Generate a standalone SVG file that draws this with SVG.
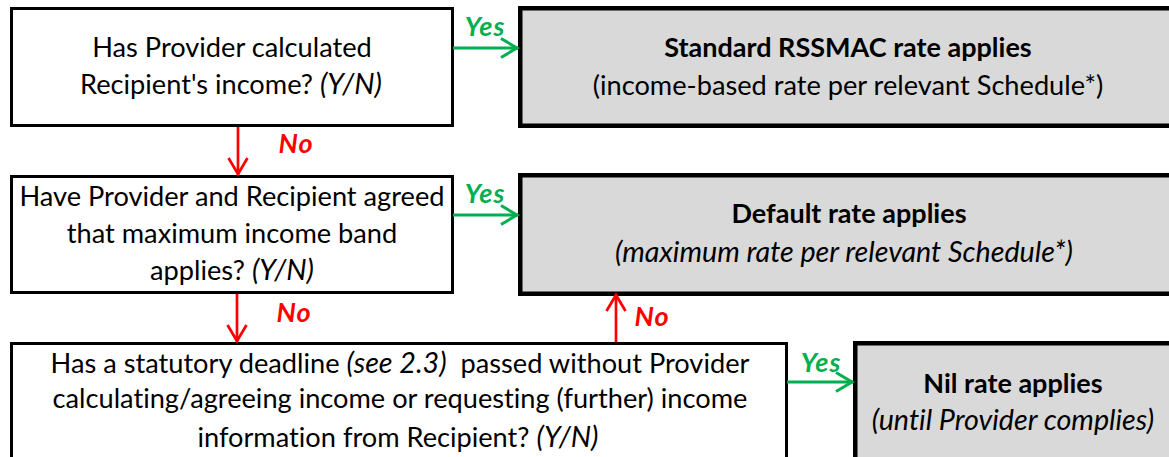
<svg xmlns="http://www.w3.org/2000/svg" width="1169" height="457" viewBox="0 0 1169 457">
<style>
text{font-family:Lato,"Liberation Sans",sans-serif;fill:#000;font-variant-ligatures:none;}
.t{font-size:27.2px;text-anchor:middle;}
.b{font-weight:bold;font-size:27px;}
.i{font-style:italic;font-size:28.7px;}
.q{fill:#fff;stroke:#000;stroke-width:3;}
.r{fill:#d9d9d9;stroke:#000;stroke-width:4.5;}
.lab{font-size:27px;font-weight:bold;font-style:italic;text-anchor:middle;letter-spacing:1px;}
.yes{fill:#00b050;}
.no{fill:#ff0000;}
.cy{stroke:#00b050;stroke-width:3;fill:none;}
.cn{stroke:#ff0000;stroke-width:2.7;fill:none;}
</style>
<defs>
<marker id="ag" viewBox="-22 -12 24 24" refX="0" refY="0" markerWidth="24" markerHeight="24" markerUnits="userSpaceOnUse" orient="auto"><path d="M-17,-9.5 L-1,0 L-17,9.5" fill="none" stroke="#00b050" stroke-width="3"/></marker>
<marker id="ar" viewBox="-22 -12 24 24" refX="0" refY="0" markerWidth="24" markerHeight="24" markerUnits="userSpaceOnUse" orient="auto"><path d="M-17,-9.5 L-1,0 L-17,9.5" fill="none" stroke="#ff0000" stroke-width="2.7"/></marker>
</defs>
<rect width="1169" height="457" fill="#fff"/>
<g id="q1">
<rect class="q" x="11.5" y="8.5" width="441" height="117"/>
<text class="t" x="232" y="57">Has Provider calculated</text>
<text class="t" x="231" y="94">Recipient's income? <tspan class="i">(Y/N)</tspan></text>
</g>
<g id="r1">
<rect class="r" x="520.25" y="8.25" width="700" height="117.5"/>
<text class="t b" x="848" y="57">Standard RSSMAC rate applies</text>
<text class="t" x="848" y="95">(income-based rate per relevant Schedule*)</text>
</g>
<g id="q2">
<rect class="q" x="11.5" y="176.5" width="441" height="116"/>
<text class="t" x="232" y="206">Have Provider and Recipient agreed</text>
<text class="t" x="232" y="243">that maximum income band</text>
<text class="t" x="232" y="280">applies? <tspan class="i">(Y/N)</tspan></text>
</g>
<g id="r2">
<rect class="r" x="520.25" y="175.25" width="700" height="118.5"/>
<text class="t b" x="849" y="223">Default rate applies</text>
<text class="t i" x="844" y="262">(maximum rate per relevant Schedule*)</text>
</g>
<g id="q3">
<rect class="q" x="11.5" y="343.5" width="775" height="130"/>
<text class="t" x="400" y="373" xml:space="preserve">Has a statutory deadline <tspan class="i">(see 2.3)</tspan>  passed without Provider</text>
<text class="t" x="400" y="408">calculating/agreeing income or requesting (further) income</text>
<text class="t" x="398" y="447">information from Recipient? <tspan class="i">(Y/N)</tspan></text>
</g>
<g id="r3">
<rect class="r" x="855.25" y="343.25" width="400" height="200"/>
<text class="t b" x="1013" y="393">Nil rate applies</text>
<text class="t i" x="1013" y="430">(until Provider complies)</text>
</g>
<g id="connectors">
<line class="cy" x1="453" y1="48" x2="518" y2="48" marker-end="url(#ag)"/>
<line class="cy" x1="453" y1="215" x2="518" y2="215" marker-end="url(#ag)"/>
<line class="cy" x1="787" y1="382" x2="853" y2="382" marker-end="url(#ag)"/>
<line class="cn" x1="238" y1="127" x2="238" y2="175" marker-end="url(#ar)"/>
<line class="cn" x1="237" y1="294" x2="237" y2="342" marker-end="url(#ar)"/>
<line class="cn" x1="616" y1="342" x2="616" y2="294" marker-end="url(#ar)"/>
<text class="lab yes" x="485" y="36">Yes</text>
<text class="lab yes" x="485" y="203">Yes</text>
<text class="lab yes" x="821" y="372">Yes</text>
<text class="lab no" x="296" y="153">No</text>
<text class="lab no" x="294" y="322">No</text>
<text class="lab no" x="652" y="326">No</text>
</g>
</svg>
